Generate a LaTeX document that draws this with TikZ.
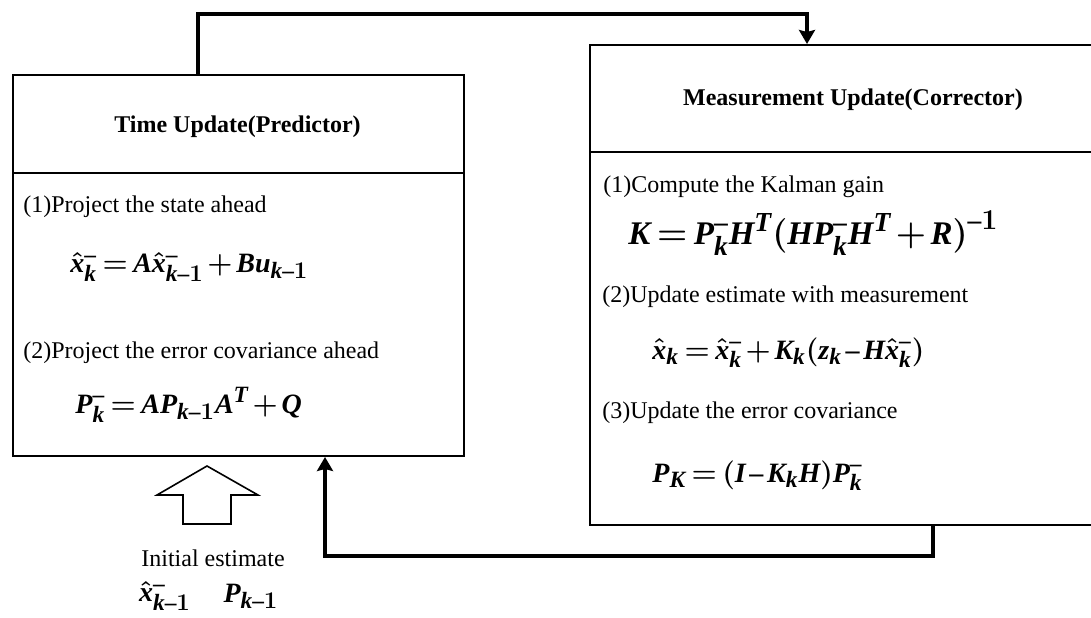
\documentclass[tikz,border=0pt]{standalone}
\usepackage{fontspec}
\setmainfont{Liberation Serif}
\usepackage[italic]{mathastext}
\usetikzlibrary{arrows.meta}
\medmuskip=2mu
\thickmuskip=3mu
\tikzset{
	panel/.style={draw, rectangle, line width=1pt, inner sep=0pt, anchor=north west},
	head/.style={font=\fontsize{12}{14}\selectfont\bfseries, inner sep=0pt},
	itemtext/.style={anchor=west, inner sep=0pt, font=\fontsize{12}{14}\selectfont},
	eqn/.style={anchor=west, inner sep=0pt, font=\fontsize{14}{16}\selectfont\boldmath},
	flow/.style={line width=1.7pt, -{Stealth[length=7pt,width=8pt,inset=1pt]}},
}
\begin{document}
\begin{tikzpicture}[x=0.5pt,y=0.5pt]
	\useasboundingbox (0,0) rectangle (1091,617);
	\clip (0,0) rectangle (1091,617);
	\node[panel, minimum width=225.5pt, minimum height=190.5pt] (tu) at (12,543) {};
	\node[panel, minimum width=260pt, minimum height=240pt] (mu) at (589,573) {};
	\draw[line width=1pt] (tu.west |- 0,444) -- (tu.east |- 0,444);
	\draw[line width=1pt] (mu.west |- 0,465) -- (mu.east |- 0,465);
	\node[head] (tuhead) at (237.5,490) {Time Update(Predictor)};
	\node[head] (muhead) at (853,517) {Measurement Update(Corrector)};
	\node[itemtext] (tu1) at (23,410) {(1)Project the state ahead};
	\node[eqn] (tueq1) at (70,350) {$\hat{x}_k^- = A\hat{x}_{k-1}^- + Bu_{k-1}$};
	\node[itemtext] (tu2) at (23,264) {(2)Project the error covariance ahead};
	\node[eqn] (tueq2) at (75,212) {$P_k^- = AP_{k-1}A^T + Q$};
	\node[itemtext] (mu1) at (603,430) {(1)Compute the Kalman gain};
	\node[eqn, font=\fontsize{16.5}{20}\selectfont\boldmath] (mueq1) at (628,384) {$K = P_k^- H^T \Bigl(HP_k^- H^T + R\Bigr)^{-1}$};
	\node[itemtext] (mu2) at (602,320) {(2)Update estimate with measurement};
	\node[eqn] (mueq2) at (652,265) {$\hat{x}_k = \hat{x}_k^- + K_k\Bigl(z_k - H\hat{x}_k^-\Bigr)$};
	\node[itemtext] (mu3) at (602,204) {(3)Update the error covariance};
	\node[eqn] (mueq3) at (652,142) {$P_K = \Bigl(I - K_kH\Bigr)P_k^-$};
	\draw[flow] (tu.north -| 198,0) |- (807,603) -- (mu.north -| 807,0);
	\draw[flow] (mu.south -| 933,0) |- (325,61) -- (tu.south -| 325,0);
	\draw[line width=0.8pt, line join=miter] (207,151) -- (258,122) -- (231,122) -- (231,93) -- (183,93) -- (183,122) -- (157,122) -- cycle;
	\node[itemtext, anchor=center] (init) at (213,59) {Initial estimate};
	\node[eqn, anchor=center] (initx) at (165,21) {$\hat{x}_{k-1}^-$};
	\node[eqn, anchor=center] (initp) at (251,21) {$P_{k-1}$};
\end{tikzpicture}
\end{document}
